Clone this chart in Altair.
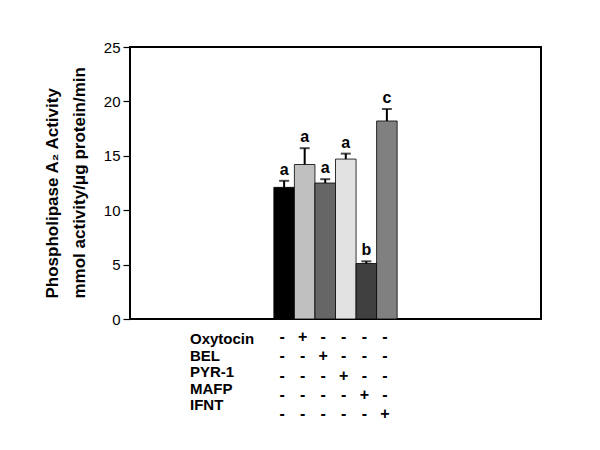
import altair as alt
import pandas as pd

# ---- data ----
bar_ids = ["Control", "Oxytocin", "BEL", "PYR-1", "MAFP", "IFNT"]
values = [12.1, 14.2, 12.5, 14.7, 5.1, 18.2]
errors = [0.6, 1.5, 0.35, 0.5, 0.2, 1.1]
letters = ["a", "a", "a", "a", "b", "c"]
colors = ["#000000", "#c0c0c0", "#666666", "#e2e2e2", "#404040", "#808080"]
treatments = ["Oxytocin", "BEL", "PYR-1", "MAFP", "IFNT"]
first_slot = 7  # bars occupy slots 7..12 of a 20-slot category axis
n_slots = 20

bars = pd.DataFrame({
    "bar": bar_ids,
    "value": values,
    "err": errors,
    "letter": letters,
    "x0": [first_slot + i for i in range(len(bar_ids))],
})
bars["x1"] = bars["x0"] + 1
bars["xc"] = bars["x0"] + 0.5
bars["top"] = bars["value"] + bars["err"]
bars["base"] = 0.0

signs_rows = []
for j, b in enumerate(bar_ids):
    for r, t in enumerate(treatments):
        signs_rows.append({"xc": first_slot + j + 0.5, "row": r,
                           "sign": "+" if b == t else "-"})
signs = pd.DataFrame(signs_rows)
labels = pd.DataFrame({"label": treatments, "row": list(range(len(treatments)))})

FONT = "Liberation Sans"
W, H = 411, 272

xscale = alt.Scale(domain=[0, n_slots], nice=False, zero=False)
yscale = alt.Scale(domain=[0, 25], nice=False, zero=True)

base = alt.Chart(bars)

bar_layer = base.mark_bar(stroke="#000000", strokeWidth=0.8).encode(
    x=alt.X("x0:Q", scale=xscale, axis=None),
    x2="x1:Q",
    y=alt.Y("value:Q", scale=yscale,
            axis=alt.Axis(values=[0, 5, 10, 15, 20, 25], grid=False, domain=False,
                          tickColor="#000000", tickSize=7, tickWidth=1.2,
                          labelFont=FONT, labelFontSize=15, labelColor="#000000",
                          labelPadding=3,
                          title=["Phospholipase A\u2082 Activity", "mmol activity/\u03bcg protein/min"],
                          titleFont=FONT, titleFontSize=17, titleFontWeight="bold",
                          titleColor="#000000", titleAngle=-90, titleAlign="left",
                          titleBaseline="middle", titleLineHeight=27,
                          titleX=-78, titleY=251)),
    y2="base:Q",
    color=alt.Color("bar:N", scale=alt.Scale(domain=bar_ids, range=colors), legend=None),
)

err_rule = base.mark_rule(color="#000000", strokeWidth=2).encode(
    x=alt.X("xc:Q", scale=xscale), y=alt.Y("value:Q", scale=yscale), y2="top:Q")

err_cap = base.mark_tick(orient="horizontal", color="#000000", size=10, thickness=2).encode(
    x=alt.X("xc:Q", scale=xscale), y=alt.Y("top:Q", scale=yscale))

letter_layer = base.mark_text(font=FONT, fontSize=16, fontWeight="bold", color="#000000",
                              baseline="bottom", dy=-3).encode(
    x=alt.X("xc:Q", scale=xscale), y=alt.Y("top:Q", scale=yscale), text="letter:N")

main = alt.layer(bar_layer, err_rule, err_cap, letter_layer)

label_layer = alt.Chart(labels).mark_text(font=FONT, fontSize=15, fontWeight="bold",
                                          color="#000000", align="left",
                                          baseline="middle").encode(
    x=alt.value(60),
    y=alt.Y("row:O", axis=None, scale=alt.Scale(range=[292, 358], padding=0)),
    text="label:N",
)

sign_layer = alt.Chart(signs).mark_text(font=FONT, fontSize=16, fontWeight="bold",
                                        color="#000000", baseline="middle", dx=-2).encode(
    x=alt.X("xc:Q", scale=xscale),
    y=alt.Y("row:O", axis=None, scale=alt.Scale(range=[290, 367], padding=0)),
    text="sign:N",
)

chart = alt.layer(main, label_layer, sign_layer).resolve_scale(
    y="independent"
).properties(
    width=W, height=H,
    autosize=alt.AutoSizeParams(type="none"),
    padding={"left": 122, "top": 39, "right": 40, "bottom": 120},
    background="#ffffff",
).configure_view(stroke="#000000", strokeWidth=2)

chart.save("out.html", embed_options={"renderer": "svg", "actions": False})
